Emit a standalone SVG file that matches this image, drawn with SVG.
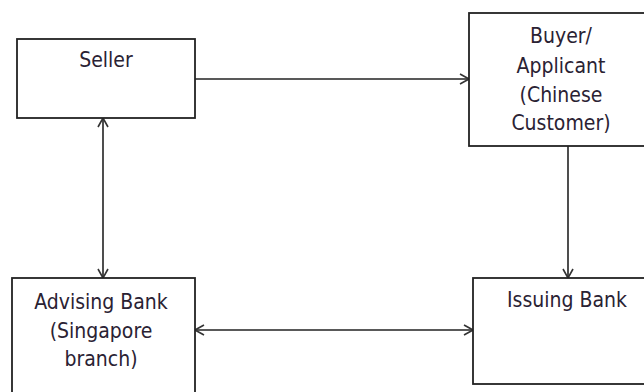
<svg xmlns="http://www.w3.org/2000/svg" width="644" height="392" viewBox="0 0 644 392">
<defs>
<style>
.box{fill:#fff;stroke:#222;stroke-width:1.8}
.lbl{font-family:"DejaVu Sans Condensed","DejaVu Sans",sans-serif;font-stretch:condensed;font-size:21px;fill:#2a2233;text-anchor:middle}
.conn{stroke:#222;stroke-width:1.6;fill:none}
.ah{stroke:#333;stroke-width:1.6;fill:none}
</style>
<marker id="open" viewBox="0 0 10 12" refX="10" refY="6" markerWidth="10" markerHeight="12" markerUnits="userSpaceOnUse" orient="auto-start-reverse">
<path class="ah" d="M1,1 L10,6 L1,11"/>
</marker>
</defs>
<rect width="644" height="392" fill="#fff"/>
<g id="connectors">
<line class="conn" x1="195" y1="79" x2="469" y2="79" marker-end="url(#open)"/>
<line class="conn" x1="568" y1="146" x2="568" y2="278" marker-end="url(#open)"/>
<line class="conn" x1="103" y1="118" x2="103" y2="278" marker-start="url(#open)" marker-end="url(#open)"/>
<line class="conn" x1="195" y1="330" x2="473" y2="330" marker-start="url(#open)" marker-end="url(#open)"/>
</g>
<g id="seller">
<rect class="box" x="17" y="39" width="178" height="79"/>
<text class="lbl" x="106" y="67">Seller</text>
</g>
<g id="buyer">
<rect class="box" x="469" y="13" width="190" height="133"/>
<text class="lbl" x="561" y="43">Buyer/</text>
<text class="lbl" x="561" y="73">Applicant</text>
<text class="lbl" x="561" y="102">(Chinese</text>
<text class="lbl" x="561" y="130">Customer)</text>
</g>
<g id="advising">
<rect class="box" x="12" y="278" width="183" height="125"/>
<text class="lbl" x="101" y="309">Advising Bank</text>
<text class="lbl" x="101" y="338">(Singapore</text>
<text class="lbl" x="101" y="366">branch)</text>
</g>
<g id="issuing">
<rect class="box" x="473" y="278" width="190" height="106"/>
<text class="lbl" x="567" y="307">Issuing Bank</text>
</g>
</svg>
